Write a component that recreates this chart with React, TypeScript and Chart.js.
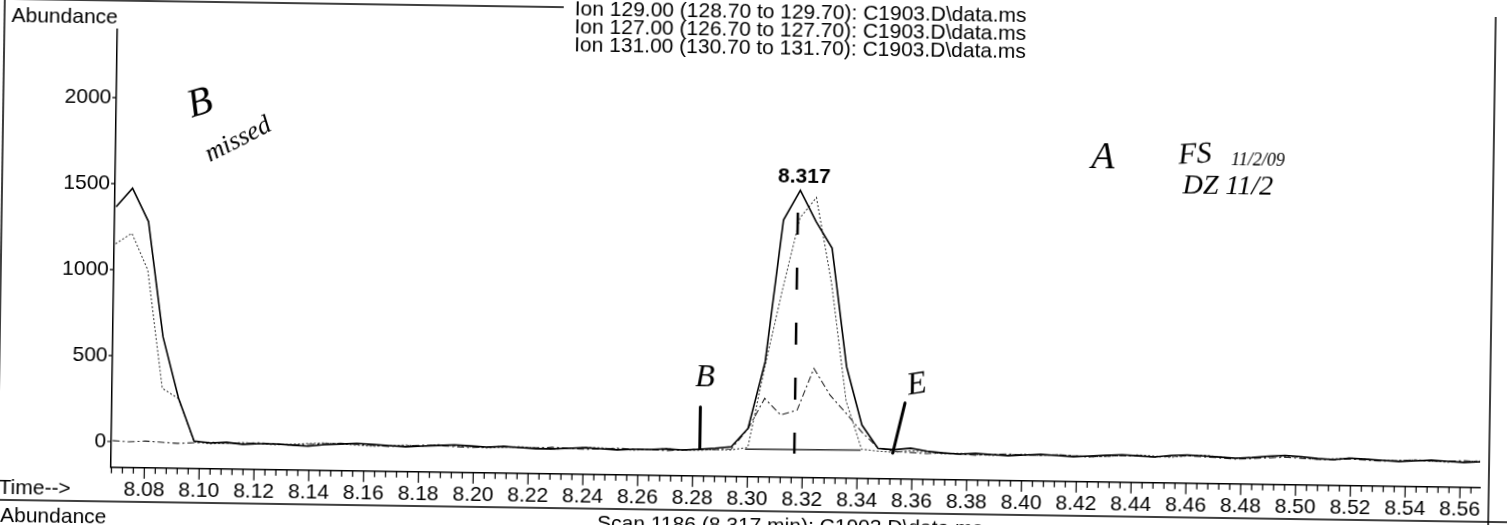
import React, { useEffect, useRef } from 'react';
import { Chart, registerables } from 'chart.js';

Chart.register(...registerables);

// ---------- data ----------
const scanTimes = [
  8.0683, 8.0742, 8.0802, 8.0861, 8.0921, 8.0980, 8.1039, 8.1099, 8.1158, 8.1218,
  8.1277, 8.1336, 8.1396, 8.1455, 8.1515, 8.1574, 8.1633, 8.1693, 8.1752, 8.1812,
  8.1871, 8.1930, 8.1990, 8.2049, 8.2109, 8.2168, 8.2227, 8.2287, 8.2346, 8.2406,
  8.2465, 8.2524, 8.2584, 8.2643, 8.2703, 8.2762, 8.2821, 8.2881, 8.2940, 8.3000,
  8.3059, 8.3118, 8.3178, 8.3237, 8.3297, 8.3356, 8.3415, 8.3475, 8.3534, 8.3594,
  8.3653, 8.3712, 8.3772, 8.3831, 8.3891, 8.3950, 8.4009, 8.4069, 8.4128, 8.4188,
  8.4247, 8.4306, 8.4366, 8.4425, 8.4485, 8.4544, 8.4603, 8.4663, 8.4722, 8.4782,
  8.4841, 8.4900, 8.4960, 8.5019, 8.5079, 8.5138, 8.5197, 8.5257, 8.5316, 8.5376,
  8.5435, 8.5494, 8.5554, 8.5613, 8.5673,
];

const ion129 = [
  1366, 1475, 1282, 614, 257, 10, 0, 5, -5, 0,
  0, -5, -10, 0, 5, 10, 5, 0, -5, 0,
  5, 10, 5, 0, 5, 0, -5, -5, 0, 5,
  0, -5, 0, 0, 5, 0, 5, 13, 23, 131,
  521, 1346, 1520, 1340, 1186, 499, 161, 26, 20, 30,
  15, 5, 0, 5, 0, -5, 0, 5, 0, -5,
  0, 5, 10, 5, 0, 10, 15, 10, 5, 0,
  5, 15, 20, 15, 5, 0, 10, 5, 0, -5,
  0, 5, 0, -5, 0,
];

const ion127 = [
  1150, 1213, 1000, 314, 255, 5, -5, 0, 5, 0,
  -5, 0, 5, 10, 5, 0, -5, 0, 5, 0,
  10, 5, 0, -5, 0, 5, 0, -5, 0, 5,
  5, 0, -5, 0, 5, 0, 0, 5, 5, 20,
  500, 940, 1360, 1480, 980, 300, 20, 10, 5, 15,
  10, 0, 5, 0, -5, 0, 5, 0, 5, 0,
  -5, 0, 5, 10, 5, 0, 10, 15, 5, 0,
  5, 10, 15, 10, 0, 5, 10, 5, 0, 0,
  5, 0, -5, 0, 5,
];

const ion131 = [
  5, 0, 5, 0, -5, 0, 5, 0, 0, 5,
  0, -5, 0, 5, 10, 5, 0, -5, 0, 5,
  5, 0, -5, 0, 5, 0, 0, 5, 0, -5,
  0, 5, 0, 0, -5, 0, 5, 5, 10, 130,
  307, 212, 242, 486, 332, 229, 120, 30, 10, 5,
  0, 5, 0, -5, 0, 5, 0, 0, 5, 0,
  -5, 0, 5, 5, 0, 5, 10, 5, 0, -5,
  0, 5, 10, 5, 0, 0, 5, 0, -5, 0,
  5, 0, 0, 5, 0,
];

const xTickValues = [
  8.08, 8.1, 8.12, 8.14, 8.16, 8.18, 8.2, 8.22, 8.24, 8.26, 8.28, 8.3, 8.32,
  8.34, 8.36, 8.38, 8.4, 8.42, 8.44, 8.46, 8.48, 8.5, 8.52, 8.54, 8.56,
];
const yTickValues = [0, 500, 1000, 1500, 2000];

const ionTitles = [
  'Ion 129.00 (128.70 to 129.70): C1903.D\\data.ms',
  'Ion 127.00 (126.70 to 127.70): C1903.D\\data.ms',
  'Ion 131.00 (130.70 to 131.70): C1903.D\\data.ms',
];
const scanCaption = 'Scan 1186 (8.317 min): C1903.D\\data.ms';
const peakRT = 8.317;
const peakRTLabel = '8.317';
const rtMarkerTop = 1390;
const integrationBaseline = [
  { x: 8.299, y: 10 },
  { x: 8.3412, y: 15 },
];

// handwritten annotations, anchored in (time, abundance)
const handNotes = [
  { text: 'B', t: 8.0984, a: 1970 },
  { text: 'missed', t: 8.1125, a: 1765 },
  { text: 'A', t: 8.428, a: 1735 },
  { text: 'FS', t: 8.4615, a: 1760 },
  { text: '11/2/09', t: 8.4845, a: 1731 },
  { text: 'DZ 11/2', t: 8.4737, a: 1576 },
  { text: 'B', t: 8.284, a: 420 },
  { text: 'E', t: 8.3613, a: 398 },
];
const handStrokes = [
  { t0: 8.2825, a0: 251, t1: 8.2825, a1: 13 },
  { t0: 8.3571, a0: 292, t1: 8.3529, a1: 0 },
];

// ---------- styling / layout ----------
const FONT = '"Liberation Sans", Arial, sans-serif';
const HAND = '"Liberation Serif", serif';
const CANVAS_W = 1515;
const CANVAS_H = 540;
const noteStyles = [
  { size: 40, rot: -18 },
  { size: 26, rot: -28 },
  { size: 38, rot: 0 },
  { size: 30, rot: -4 },
  { size: 18, rot: 0 },
  { size: 28, rot: 0 },
  { size: 32, rot: 0 },
  { size: 32, rot: -10 },
];

const decor = {
  id: 'chromDecor',
  afterDraw(chart: any) {
    const ctx = chart.ctx as CanvasRenderingContext2D;
    const xs = chart.scales.x;
    const ys = chart.scales.y;
    const area = chart.chartArea;
    ctx.save();
    ctx.fillStyle = '#000';
    ctx.strokeStyle = '#000';

    // frame of the printout box
    ctx.lineWidth = 1.5;
    ctx.beginPath();
    ctx.moveTo(1, 511);
    ctx.lineTo(1, 10);
    ctx.lineTo(560, 10);
    ctx.moveTo(1492, 6);
    ctx.lineTo(1492, CANVAS_H);
    ctx.moveTo(0, 511);
    ctx.lineTo(CANVAS_W, 511);
    ctx.stroke();

    // x axis ticks (minor every 0.004, major every 0.02)
    ctx.lineWidth = 1.2;
    ctx.beginPath();
    const step = 0.004;
    const i0 = Math.ceil(xs.min / step - 1e-6);
    const i1 = Math.floor(xs.max / step + 1e-6);
    for (let i = i0; i <= i1; i++) {
      const px = xs.getPixelForValue(i * step);
      const len = i % 5 === 0 ? 11 : 6;
      ctx.moveTo(px, area.bottom);
      ctx.lineTo(px, area.bottom + len);
    }
    // y axis ticks
    yTickValues.forEach((v) => {
      const py = ys.getPixelForValue(v);
      ctx.moveTo(area.left, py);
      ctx.lineTo(area.left - 4, py);
    });
    ctx.stroke();

    // texts
    ctx.font = `21px ${FONT}`;
    ctx.textAlign = 'left';
    ctx.textBaseline = 'alphabetic';
    ctx.fillText('Abundance', 8, 33);
    ionTitles.forEach((t, i) => ctx.fillText(t, 571, 18 + i * 18));
    ctx.fillText('Time-->', 2, 505);
    ctx.fillText('Abundance', 4, 533);
    ctx.fillText(scanCaption, 601, 532);

    // retention time marker
    const rx = xs.getPixelForValue(peakRT);
    ctx.lineWidth = 2.5;
    ctx.setLineDash([22, 33]);
    ctx.beginPath();
    ctx.moveTo(rx, ys.getPixelForValue(rtMarkerTop));
    ctx.lineTo(rx, ys.getPixelForValue(-12));
    ctx.stroke();
    ctx.setLineDash([]);
    const apex = Math.max(...ion129.slice(30, 60));
    ctx.font = `bold 21px ${FONT}`;
    ctx.textAlign = 'center';
    ctx.fillText(peakRTLabel, rx + 6, ys.getPixelForValue(apex) - 8);

    // handwritten marks
    ctx.lineCap = 'round';
    ctx.lineWidth = 3;
    handStrokes.forEach((s) => {
      ctx.beginPath();
      ctx.moveTo(xs.getPixelForValue(s.t0), ys.getPixelForValue(s.a0));
      ctx.lineTo(xs.getPixelForValue(s.t1), ys.getPixelForValue(s.a1));
      ctx.stroke();
    });
    ctx.textBaseline = 'middle';
    handNotes.forEach((n, i) => {
      const st = noteStyles[i];
      ctx.save();
      ctx.translate(xs.getPixelForValue(n.t), ys.getPixelForValue(n.a));
      ctx.rotate((st.rot * Math.PI) / 180);
      ctx.font = `italic ${st.size}px ${HAND}`;
      ctx.textAlign = 'center';
      ctx.fillText(n.text, 0, 0);
      ctx.restore();
    });
    ctx.restore();
  },
};

export default function App() {
  const ref = useRef<HTMLCanvasElement>(null);

  useEffect(() => {
    const canvas = ref.current;
    if (!canvas) return;
    const toPts = (vals: number[]) => scanTimes.map((t, i) => ({ x: t, y: vals[i] }));
    const chart = new Chart(canvas, {
      type: 'line',
      data: {
        datasets: [
          {
            label: 'Ion 129.00',
            data: toPts(ion129),
            borderColor: '#000',
            borderWidth: 1.6,
            pointRadius: 0,
            tension: 0,
          },
          {
            label: 'Ion 127.00',
            data: toPts(ion127),
            borderColor: '#444',
            borderWidth: 1.1,
            borderDash: [2, 2],
            pointRadius: 0,
            tension: 0,
          },
          {
            label: 'Ion 131.00',
            data: toPts(ion131),
            borderColor: '#222',
            borderWidth: 1.1,
            borderDash: [7, 3, 2, 3],
            pointRadius: 0,
            tension: 0,
          },
          {
            label: 'baseline',
            data: integrationBaseline,
            borderColor: '#333',
            borderWidth: 1.5,
            pointRadius: 0,
            tension: 0,
          },
        ],
      },
      options: {
        responsive: false,
        animation: false,
        events: [],
        layout: { padding: { left: 0, top: 38.4, right: CANVAS_W - 1483, bottom: 0 } },
        plugins: {
          legend: { display: false },
          title: { display: false },
          tooltip: { enabled: false },
        },
        scales: {
          x: {
            type: 'linear',
            min: 8.0678,
            max: 8.5672,
            grid: { display: false, drawTicks: false },
            border: { display: true, color: '#000', width: 1.5 },
            ticks: {
              padding: 10,
              color: '#000',
              autoSkip: false,
              maxRotation: 0,
              font: { family: FONT, size: 21 },
              callback: (v: any) => Number(v).toFixed(2),
            },
            afterBuildTicks: (s: any) => {
              s.ticks = xTickValues.map((v) => ({ value: v }));
            },
            afterFit: (s: any) => {
              s.height = CANVAS_H - 476.8;
            },
          },
          y: {
            type: 'linear',
            min: -150,
            max: 2400,
            grid: { display: false, drawTicks: false },
            border: { display: true, color: '#000', width: 1.5 },
            ticks: {
              padding: 5,
              color: '#000',
              font: { family: FONT, size: 21 },
              callback: (v: any) => String(v),
            },
            afterBuildTicks: (s: any) => {
              s.ticks = yTickValues.map((v) => ({ value: v }));
            },
            afterFit: (s: any) => {
              s.width = 114;
            },
          },
        },
      },
      plugins: [decor],
    });
    return () => chart.destroy();
  }, []);

  return (
    <div
      style={{
        position: 'absolute',
        left: 0,
        top: 0,
        width: 1507,
        height: 525,
        overflow: 'hidden',
        background: '#fff',
      }}
    >
      <div
        style={{
          position: 'absolute',
          left: 0,
          top: 0,
          width: CANVAS_W,
          height: CANVAS_H,
          transform: 'rotate(0.85deg)',
          transformOrigin: '753px 262px',
        }}
      >
        <canvas
          ref={ref}
          width={CANVAS_W}
          height={CANVAS_H}
          style={{ display: 'block', width: CANVAS_W, height: CANVAS_H }}
        />
      </div>
    </div>
  );
}
